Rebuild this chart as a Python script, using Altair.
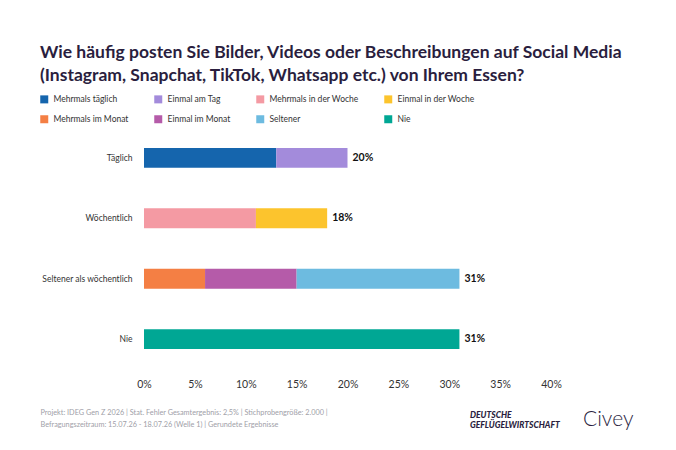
import altair as alt
import pandas as pd

groups = ["Täglich", "Wöchentlich", "Seltener als wöchentlich", "Nie"]
categories = ["Mehrmals täglich", "Einmal am Tag", "Mehrmals in der Woche", "Einmal in der Woche",
              "Mehrmals im Monat", "Einmal im Monat", "Seltener", "Nie"]
colors = ["#1565ad", "#a38bdb", "#f49aa3", "#fcc42d", "#f47f44", "#b55ba9", "#6dbbe0", "#00a794"]
seg_group = ["Täglich", "Täglich", "Wöchentlich", "Wöchentlich",
             "Seltener als wöchentlich", "Seltener als wöchentlich", "Seltener als wöchentlich", "Nie"]
seg_value = [13, 7, 11, 7, 6, 9, 16, 31]
totals = [20, 18, 31, 31]
x_ticks = [0, 5, 10, 15, 20, 25, 30, 35, 40]

title_lines = ["Wie häufig posten Sie Bilder, Videos oder Beschreibungen auf Social Media",
               "(Instagram, Snapchat, TikTok, Whatsapp etc.) von Ihrem Essen?"]
footer_lines = ["Projekt: IDEG Gen Z 2026 | Stat. Fehler Gesamtergebnis: 2,5% | Stichprobengröße: 2.000 |",
                "Befragungszeitraum: 15.07.26 - 18.07.26 (Welle 1) | Gerundete Ergebnisse"]

FONT = "Lato"
DARK = "#2a1e3e"

seg = pd.DataFrame({"group": seg_group, "category": categories, "value": seg_value,
                    "order": list(range(len(categories)))})
tot = pd.DataFrame({"group": groups, "total": totals})

y_enc = alt.Y("group:N", sort=groups, title=None,
              scale=alt.Scale(paddingInner=0.67, paddingOuter=0.33),
              axis=alt.Axis(domain=False, ticks=False, labelPadding=12, labelFontSize=8.5,
                            labelColor="#333333", labelFont=FONT))

bars = alt.Chart(seg).mark_bar().encode(
    x=alt.X("value:Q", stack="zero", scale=alt.Scale(domain=[0, 40]),
            axis=alt.Axis(values=x_ticks, labelExpr="datum.value + '%'", grid=False, domain=False,
                          ticks=False, labelFlush=False, labelPadding=10, labelFontSize=10.5,
                          labelColor="#333333",
                          labelFont=FONT, title=footer_lines, titleAnchor="start", titleAlign="left",
                          titleX=-104, titleY=45, titleFontSize=7.3, titleFontWeight="normal",
                          titleColor="#a0a0a8", titleFont=FONT, titleLineHeight=12,
                          titleBaseline="alphabetic")),
    y=y_enc,
    color=alt.Color("category:N", sort=categories,
                    scale=alt.Scale(domain=categories, range=colors),
                    legend=alt.Legend(title=None, orient="none", legendX=-104, legendY=-33,
                                      direction="horizontal", columns=4,
                                      columnPadding=25, rowPadding=11, symbolType="square",
                                      symbolSize=64, symbolStrokeWidth=0, labelFontSize=8.5,
                                      labelFont=FONT, labelColor="#333333", labelOffset=5)),
    order=alt.Order("order:Q"),
)

labels = alt.Chart(tot).transform_calculate(lbl="datum.total + '%'").mark_text(
    align="left", dx=5, fontSize=10.5, fontWeight="bold", font=FONT, color="#111111").encode(
    x=alt.X("total:Q"),
    y=alt.Y("group:N", sort=groups),
    text="lbl:N",
)

logo_df = pd.DataFrame({"a": [1]})
logo1 = alt.Chart(logo_df).mark_text(align="left", baseline="alphabetic", fontSize=8.5,
                                     fontWeight=900, fontStyle="italic", font=FONT,
                                     color=DARK, lineBreak="\n", lineHeight=10).encode(
    x=alt.value(326), y=alt.value(290), text=alt.value("DEUTSCHE\nGEFLÜGELWIRTSCHAFT"))
logo2 = alt.Chart(logo_df).mark_text(align="left", baseline="alphabetic", fontSize=21,
                                     font=FONT, fontWeight=300, color=DARK).encode(
    x=alt.value(439), y=alt.value(298), text=alt.value("Civey"))

chart = alt.layer(bars, labels, logo1, logo2).properties(
    width=407, height=241,
    padding={"left": 136, "top": 120, "right": 110, "bottom": 66},
    autosize=alt.AutoSizeParams(type="none"),
    title=alt.TitleParams(text=title_lines, anchor="start", frame="group", dx=-104, dy=0,
                          fontSize=17.5, fontWeight="bold", font=FONT, color=DARK,
                          lineHeight=23, offset=11),
).configure_view(stroke=None)

chart.save("out.html", embed_options={"renderer": "svg", "actions": False})
